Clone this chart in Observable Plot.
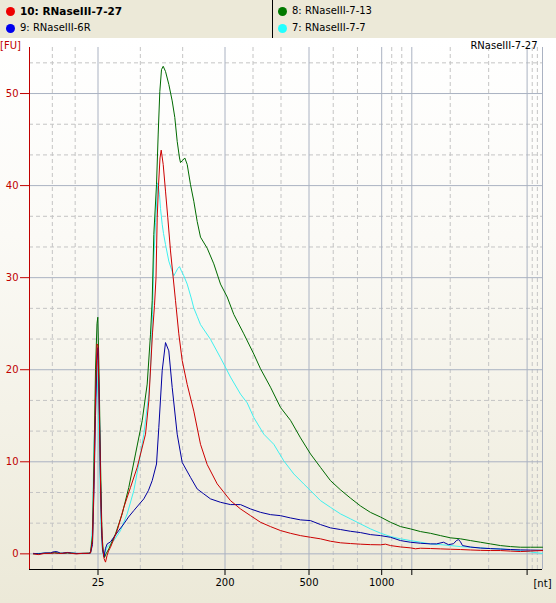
<!DOCTYPE html>
<html><head><meta charset="utf-8">
<script src="https://cdn.jsdelivr.net/npm/d3@7"></script>
<script src="https://cdn.jsdelivr.net/npm/@observablehq/plot@0.6"></script>
<style>
html,body{margin:0;padding:0;}
body{width:556px;height:603px;overflow:hidden;background:#ece9d8;font-family:"DejaVu Sans",sans-serif;}
#legend{position:relative;height:38px;background:#ece9d8;}
.item{position:absolute;font-size:10px;line-height:12px;white-space:nowrap;color:#000;}
.dot{position:absolute;width:9px;height:9px;border-radius:50%;}
#divider{position:absolute;left:272px;top:0;width:1px;height:38px;background:#000;}
#chart{height:565px;background:linear-gradient(to bottom,#ffffff 0%,#fbfaf6 35%,#ece9d8 100%);}
#chart svg{display:block;}
</style></head>
<body>
<div id="legend"><div id="divider"></div></div>
<div id="chart"></div>
<script>
// ---- data ----
const sampleNames = ["10: RNaseIII-7-27", "9: RNaseIII-6R", "8: RNaseIII-7-13", "7: RNaseIII-7-7"];
const legendColors = ["#ee0000", "#0000ee", "#007a00", "#22ffff"];
const lineColors = ["#cc0000", "#0000a0", "#006a00", "#3ff0f0"];
const chartTitle = "RNaseIII-7-27";

// ladder: size (nt) and migration time (s)
const ladderNt = [25, 200, 500, 1000, 2000, 4000, 6000];
const ladderTime = [24.75, 37.45, 45.85, 53.12, 56.13, 67.66, 69.2];
const labeledNt = [25, 200, 500, 1000];
const runStart = 17.9;
const yTicks = [0, 10, 20, 30, 40, 50];

// [time (s), fluorescence (FU)]
const s10 = [[18.3,0],[18.8,-0.08],[19.4,0.05],[20.0,0.05],[20.4,0.1],[20.8,0.05],[21.2,0.05],[21.7,0.12],[22.1,0.05],[22.6,0],[23.2,0.05],[23.8,0.05],[24.0,0.1],
[24.2,1.5],[24.35,8],[24.5,17],[24.65,22.8],[24.75,22.6],[24.9,14],[25.05,5],[25.2,0.8],[25.35,-0.5],[25.5,-0.9],[25.65,-0.2],[25.8,0.3],[26.0,0.72],
[26.67,2.53],[27.33,5.05],[28.0,7.22],[28.67,9.39],[29.5,13.0],[29.83,16.6],[30.2,24],[30.4,27],[30.55,30],[30.67,36.5],[30.8,40],[30.95,43],[31.07,43.85],
[31.27,42.3],[31.5,39.4],[31.73,36.5],[32.0,32.9],[32.27,30.0],[32.5,27.5],[32.83,23.9],[33.17,21.0],[33.67,18.4],[34.33,15.5],[35.0,11.9],[35.67,9.7],
[36.67,7.6],[38.0,5.78],[39.0,4.88],[40.0,4.15],[41.0,3.43],[42.0,2.96],[43.0,2.53],[44.0,2.23],[45.0,1.98],[46.0,1.8],[47.0,1.63],[48.0,1.37],[49.0,1.2],
[50.0,1.12],[51.0,1.05],[52.0,1.0],[53.0,0.98],[53.5,1.05],[54.0,0.9],[55.0,0.75],[56.0,0.65],[56.5,0.55],[57.0,0.61],[58.0,0.58],[59.0,0.54],[60.0,0.5],
[61.0,0.47],[62.0,0.42],[63.0,0.38],[64.0,0.36],[65.0,0.36],[66.0,0.3],[67.0,0.25],[68.0,0.3],[69.2,0.36]];

const s9 = [[18.3,0.05],[18.8,0],[19.4,0.1],[20.0,0.1],[20.4,0.25],[20.7,0.22],[21.0,0.05],[21.7,0.15],[22.1,0.08],[22.6,0.05],[23.2,0.05],[23.8,0.05],[24.0,0.1],
[24.2,1],[24.35,7],[24.5,15],[24.65,21],[24.75,22.4],[24.9,15],[25.0,8],[25.1,3],[25.2,0.5],[25.35,-0.3],[25.5,0.6],[25.67,1.08],[26.0,1.3],[26.33,1.8],
[26.8,2.5],[27.33,3.25],[27.8,4.0],[28.33,4.7],[28.8,5.3],[29.33,5.97],[29.8,6.9],[30.17,7.95],[30.6,9.76],[30.83,13.7],[31.17,19.9],[31.5,22.95],
[31.83,22.05],[32.17,18.07],[32.67,13.0],[33.17,9.93],[34.0,8.31],[34.67,7.05],[35.33,6.51],[36.0,5.97],[37.0,5.6],[38.0,5.35],[39.0,5.35],[40.0,4.88],
[41.0,4.51],[42.0,4.26],[43.0,4.15],[44.0,3.9],[45.0,3.69],[46.0,3.61],[47.0,3.18],[48.0,2.82],[49.0,2.64],[50.0,2.45],[51.0,2.31],[52.0,2.09],[53.0,1.98],
[54.0,1.8],[55.0,1.44],[56.0,1.26],[57.0,1.15],[58.0,1.08],[58.6,1.08],[59.3,1.26],[59.8,1.0],[60.3,1.1],[60.6,1.45],[60.8,1.55],[61.0,1.3],[61.2,0.9],
[62.0,0.74],[63.0,0.63],[64.0,0.57],[65.0,0.52],[66.0,0.47],[67.0,0.43],[68.0,0.41],[69.2,0.39]];

const s8 = [[18.3,0],[18.8,0.02],[19.4,0.05],[20.0,0.08],[20.4,0.12],[20.8,0.08],[21.2,0.05],[21.7,0.1],[22.1,0.08],[22.6,0.03],[23.2,0.05],[23.8,0.08],[24.0,0.1],
[24.2,2],[24.35,10],[24.5,20],[24.65,25],[24.73,25.7],[24.85,20],[25.0,10],[25.15,2],[25.3,0],[25.4,-0.4],[25.55,0],[25.83,0.54],[26.5,2.17],[27.17,4.34],
[27.83,7.22],[28.5,10.85],[29.17,14.46],[29.67,18.44],[30.0,23.86],[30.17,27.5],[30.33,34.7],[30.6,40.1],[30.77,45.6],[30.93,50.2],[31.1,52.6],[31.27,52.96],
[31.5,52.4],[31.83,51.0],[32.17,49.2],[32.43,47.4],[32.67,44.8],[32.9,43.0],[33.0,42.5],[33.17,42.7],[33.43,43.0],[33.67,42.3],[34.0,40.1],[34.33,38.3],
[34.67,36.1],[35.0,34.4],[35.67,33.2],[36.33,31.5],[37.0,29.3],[37.67,27.9],[38.33,26.0],[39.33,23.9],[40.33,21.7],[41.0,20.1],[42.0,18.1],[43.0,15.9],
[44.0,14.5],[45.0,12.6],[46.0,10.85],[47.0,9.39],[48.0,7.95],[49.0,6.95],[50.0,6.05],[51.0,5.2],[52.0,4.5],[53.0,4.0],[54.0,3.43],[55.0,2.96],[56.0,2.71],
[57.0,2.42],[58.0,2.23],[59.0,1.98],[60.0,1.74],[61.0,1.63],[62.0,1.44],[63.0,1.26],[64.0,1.08],[65.0,0.9],[66.0,0.79],[67.0,0.72],[68.0,0.72],[69.2,0.72]];

const s7 = [[18.3,0.02],[18.8,0.05],[19.4,0.08],[20.0,0.05],[20.4,0.15],[20.8,0.1],[21.2,0.05],[21.7,0.08],[22.1,0.1],[22.6,0.05],[23.2,0.02],[23.8,0.05],[24.0,0.1],
[24.2,3],[24.35,12],[24.45,15],[24.55,19],[24.63,20.2],[24.75,17],[24.9,10],[25.05,3],[25.2,0.3],[25.3,-0.3],[25.45,0.2],[25.67,0.72],[26.33,1.44],[27.0,2.53],
[27.67,4.34],[28.33,6.87],[28.83,9.76],[29.33,13.0],[29.83,17.35],[30.0,20],[30.2,26],[30.33,32],[30.5,36],[30.73,40.3],[30.9,39],[31.0,37.5],[31.17,35.8],
[31.3,34.8],[31.5,33.6],[31.83,31.8],[32.1,30.9],[32.33,30.2],[32.53,30.6],[32.73,31.0],[32.9,31.2],[33.1,30.7],[33.33,30.2],[33.67,29.3],[34.07,27.8],
[34.33,26.7],[34.67,25.8],[35.0,24.9],[36.0,23.3],[37.0,21.3],[38.0,19.2],[39.0,17.35],[39.67,16.4],[40.33,14.8],[41.33,13.0],[42.33,11.9],[43.33,10.1],
[44.33,8.68],[45.33,7.59],[46.0,6.87],[47.0,5.78],[48.0,5.05],[49.0,4.34],[50.0,3.8],[51.0,3.25],[52.0,2.71],[53.0,2.25],[54.0,1.88],[55.0,1.63],[56.0,1.44],
[57.0,1.26],[58.0,1.08],[59.0,1.0],[60.0,0.9],[61.0,0.79],[62.0,0.72],[63.0,0.65],[64.0,0.57],[65.0,0.54],[66.0,0.43],[67.0,0.35],[68.0,0.2],[69.2,0.05]];

const seriesData = [s10, s9, s8, s7];

// ---- legend ----
const legend = document.getElementById("legend");
const legendPos = [[10, 11], [10, 28], [282, 11], [282, 28]];
sampleNames.forEach((name, i) => {
  const [x, y] = legendPos[i];
  const dot = document.createElement("div");
  dot.className = "dot";
  dot.style.left = (x - 4.5) + "px"; dot.style.top = (y - 4.5) + "px";
  dot.style.background = legendColors[i];
  legend.appendChild(dot);
  const t = document.createElement("div");
  t.className = "item";
  t.textContent = name;
  t.style.left = (x + 10) + "px"; t.style.top = (y - 6) + "px";
  if (i === 0) { t.style.fontWeight = "bold"; t.style.fontSize = "10.5px"; }
  legend.appendChild(t);
});

// ---- gridlines ----
const bounds = [runStart, ...ladderTime];
const minorX = [];
for (let i = 0; i < bounds.length - 1; i++) {
  const a = bounds[i], b = bounds[i + 1];
  minorX.push(a + (b - a) / 3, a + 2 * (b - a) / 3);
}
const minorY = d3.range(0, 55, 10 / 3).filter(v => Math.abs(v % 10) > 0.01 && Math.abs(v % 10 - 10) > 0.01);
const labelByTime = new Map(ladderTime.map((t, i) => [t, labeledNt.includes(ladderNt[i]) ? String(ladderNt[i]) : ""]));

const order = [3, 2, 1, 0]; // draw 7, 8, 9, then 10 on top
const chart = Plot.plot({
  width: 556, height: 565,
  marginLeft: 29, marginRight: 14, marginTop: 9, marginBottom: 34,
  style: {background: "transparent", fontFamily: "DejaVu Sans", fontSize: "10px"},
  x: {domain: [runStart, 69.2]},
  y: {domain: [-1.7, 55]},
  marks: [
    Plot.ruleY(minorY, {stroke: "#c4c4c4", strokeDasharray: "4,3"}),
    Plot.ruleX(minorX, {stroke: "#c4c4c4", strokeDasharray: "4,3"}),
    Plot.ruleY(yTicks, {stroke: "#aab2c2"}),
    Plot.ruleX(ladderTime, {stroke: "#aab2c2"}),
    ...order.map(i => Plot.line(seriesData[i], {x: d => d[0], y: d => d[1], stroke: lineColors[i], strokeWidth: 1})),
    Plot.ruleY([-1.7], {stroke: "#000"}),
    Plot.ruleX([runStart], {stroke: "#c00000"}),
    Plot.axisY(yTicks, {tickSize: 9, tickPadding: 2, color: "#c00000", label: null}),
    Plot.axisX(ladderTime.slice(0, 6), {tickSize: 6, tickPadding: 3, color: "#000", label: null, tickFormat: t => labelByTime.get(t)}),
    Plot.text(["[nt]"], {frameAnchor: "bottom-right", dy: 14, textAnchor: "middle", lineAnchor: "middle", fill: "#000"}),
    Plot.text(["[FU]"], {frameAnchor: "top-left", dx: -19, dy: -2, textAnchor: "middle", lineAnchor: "middle", fill: "#c00000"}),
    Plot.text([chartTitle], {frameAnchor: "top-right", dx: -5, dy: -2, textAnchor: "end", lineAnchor: "middle", fill: "#000"})
  ]
});
document.getElementById("chart").appendChild(chart);
</script>
</body></html>
